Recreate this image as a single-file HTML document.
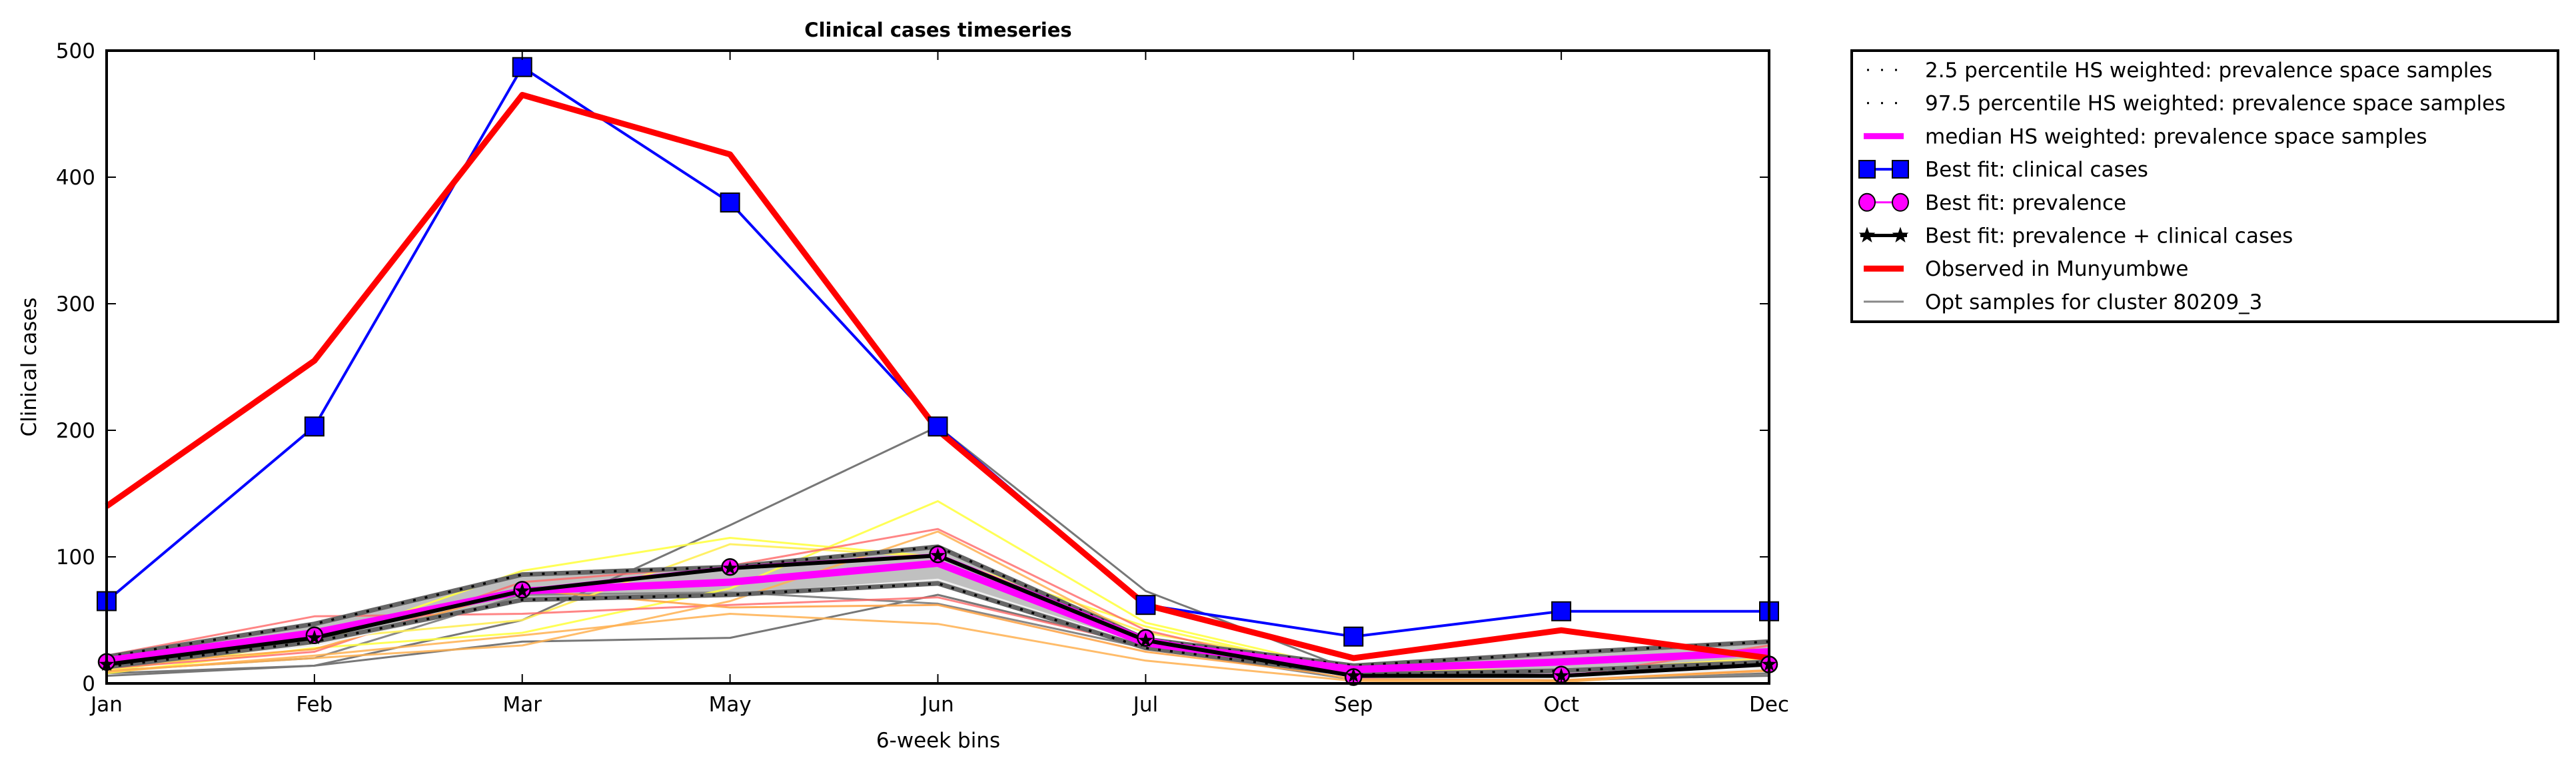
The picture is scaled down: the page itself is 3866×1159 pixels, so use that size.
<!DOCTYPE html>
<html><head><meta charset="utf-8"><style>
html,body{margin:0;padding:0;background:#fff;}
svg{display:block;font-family:"DejaVu Sans","Liberation Sans",sans-serif;}
</style></head><body>
<svg id="chart" width="3866" height="1159" xmlns="http://www.w3.org/2000/svg">
<rect width="3866" height="1159" fill="#fff"/>
<g id="plot"></g>
<text x="1408" y="55" font-size="29" font-weight="bold" text-anchor="middle">Clinical cases timeseries</text>
<text x="1408" y="1122" font-size="31" text-anchor="middle">6-week bins</text>
<text x="54" y="551" font-size="31" text-anchor="middle" transform="rotate(-90 54 551)">Clinical cases</text>
<g id="legend"></g>
</svg>
<script>
const categories = ["Jan","Feb","Mar","May","Jun","Jul","Sep","Oct","Dec"];
const yTicks = [0,100,200,300,400,500];
const observed = [140,255,465,418,200,62,20,42,20];
const bestClinical = [65,203,487,380,203,62,37,57,57];
const bestPrev = [17,38,74,92,102,36,5,7,15];
const bestBoth = [15,36,73,91,101,34,6,6,15];
const median = [18,40,73,80,95,32,11,17,25];
const p025 = [13,33,66,70,79,28,7,10,17];
const p975 = [21,47,86,92,108,35,14,24,33];
const samplesGray1 = [6,14,50,125,203,73,10,2,8];
const samplesGray2 = [8,14,33,36,70,30,5,3,6];
const samplesGray3 = [10,20,70,72,63,28,3,4,7];
const samplesYellow1 = [10,32,89,115,100,45,8,10,18];
const samplesYellow2 = [8,28,40,75,144,48,10,10,15];
const samplesYellow3 = [12,35,50,110,100,40,12,10,20];
const samplesRed1 = [22,53,55,62,68,30,5,5,30];
const samplesRed2 = [12,25,80,93,122,42,4,3,10];
const samplesOrange1 = [10,20,30,65,120,35,3,2,10];
const samplesOrange2 = [9,22,38,55,47,18,2,1,12];
const samplesOrange3 = [14,27,74,60,62,25,5,3,11];
const samplesWhite1 = [15,30,66,70,82,30,5,4,12];

const L=160,R=2655,T=76,B=1026;
const NS="http://www.w3.org/2000/svg";
const xs=i=>L+i*(R-L)/(categories.length-1);
const ys=v=>B-v*(B-T)/500;
const plot=document.getElementById('plot');
function mk(tag,attrs,parent){const e=document.createElementNS(NS,tag);for(const k in attrs)e.setAttribute(k,attrs[k]);(parent||plot).appendChild(e);return e;}
function pts(a){return a.map((v,i)=>xs(i).toFixed(1)+","+ys(v).toFixed(1)).join(" ");}
function line(arr,name,stroke,w,extra){const e=mk('polyline',Object.assign({points:pts(arr),fill:'none',stroke:stroke,'stroke-width':w,'stroke-linejoin':'round'},extra||{}));


return e;}

const band=mk('polygon',{points:pts(p975)+" "+p025.map((v,i)=>[xs(i),ys(v)]).reverse().map(p=>p[0].toFixed(1)+","+p[1].toFixed(1)).join(" "),fill:'#bdbdbd',opacity:'0.95'});



const samples=[[samplesGray1,'#777',1],[samplesGray2,'#777',1],[samplesGray3,'#888',1],[samplesYellow1,'#ffff44',0.9],[samplesYellow2,'#ffff44',0.9],[samplesYellow3,'#ffee55',0.9],[samplesRed1,'#ff6666',0.8],[samplesRed2,'#ff6666',0.8],[samplesOrange1,'#ffb050',0.85],[samplesOrange2,'#ffb050',0.85],[samplesOrange3,'#ffa040',0.85],[samplesWhite1,'#eeeeee',1]];
samples.forEach(s=>{line(s[0],'opt-sample-line',s[1],3,{opacity:s[2]});});

line(p025,'percentile-2-5-edge','#666',7);
line(p975,'percentile-97-5-edge','#666',7);
line(p025,'percentile-2-5-line','#000',3.5,{'stroke-dasharray':'4 14'});
line(p975,'percentile-97-5-line','#000',3.5,{'stroke-dasharray':'4 14'});
line(median,'median-line','#ff00ff',11);
line(bestPrev,'best-fit-prevalence-line','#ff00ff',3);
line(bestBoth,'best-fit-both-line','#000',6);
line(bestClinical,'best-fit-clinical-line','#0000ff',4);
line(observed,'observed-line','#ff0000',9);

bestClinical.forEach((v,i)=>{const r=mk('rect',{x:xs(i)-14,y:ys(v)-14,width:28,height:28,fill:'#0000ff',stroke:'#000','stroke-width':2});

});
bestPrev.forEach((v,i)=>{const c=mk('circle',{cx:xs(i),cy:ys(v),r:12,fill:'#ff00ff',stroke:'#000','stroke-width':2.5});

});
function starPath(cx,cy,r){let d="";for(let k=0;k<10;k++){const rr=k%2?r*0.4:r;const a=-Math.PI/2+k*Math.PI/5;d+=(k?"L":"M")+(cx+rr*Math.cos(a)).toFixed(1)+","+(cy+rr*Math.sin(a)).toFixed(1);}return d+"Z";}
bestBoth.forEach((v,i)=>{const p=mk('path',{d:starPath(xs(i),ys(v),12),fill:'#000'});

});

const fr=mk('rect',{x:L,y:T,width:R-L,height:B-T,fill:'none',stroke:'#000','stroke-width':4});


categories.forEach((c,i)=>{
 const x=xs(i);
 const t1=mk('line',{x1:x,y1:B,x2:x,y2:B-14,stroke:'#000','stroke-width':2});
 
 
 const t2=mk('line',{x1:x,y1:T,x2:x,y2:T+14,stroke:'#000','stroke-width':2});
 
 
 const tx=mk('text',{x:x,y:1068,'font-size':31,'text-anchor':'middle'});tx.textContent=c;
 
 
});
yTicks.forEach(v=>{
 const y=ys(v);
 const t1=mk('line',{x1:L,y1:y,x2:L+14,y2:y,stroke:'#000','stroke-width':2});
 
 
 const t2=mk('line',{x1:R,y1:y,x2:R-14,y2:y,stroke:'#000','stroke-width':2});
 
 
 const tx=mk('text',{x:143,y:y+11,'font-size':31,'text-anchor':'end'});tx.textContent=v;
 
 
});

const lg=document.getElementById('legend');
const lb=mk('rect',{x:2779,y:76,width:1060,height:407,fill:'#fff',stroke:'#000','stroke-width':4},lg);


const labels=["2.5 percentile HS weighted: prevalence space samples","97.5 percentile HS weighted: prevalence space samples","median HS weighted: prevalence space samples","Best fit: clinical cases","Best fit: prevalence","Best fit: prevalence + clinical cases","Observed in Munyumbwe","Opt samples for cluster 80209_3"];
labels.forEach((t,k)=>{
 const cy=105+k*49.7, x0=2792, x1=2862;
 const g=mk('g',{},lg);
 
 
 if(k<2) mk('line',{x1:x0+10,y1:cy,x2:x1,y2:cy,stroke:'#000','stroke-width':3,'stroke-dasharray':'3 18'},g);
 if(k==2) mk('line',{x1:x0+5,y1:cy,x2:x1-5,y2:cy,stroke:'#ff00ff','stroke-width':9},g);
 if(k==3){mk('line',{x1:x0,y1:cy,x2:x1,y2:cy,stroke:'#0000ff','stroke-width':4},g);[x0+10,x1-10].forEach(x=>mk('rect',{x:x-12,y:cy-13,width:24,height:26,fill:'#0000ff',stroke:'#000','stroke-width':2},g));}
 if(k==4){mk('line',{x1:x0,y1:cy,x2:x1,y2:cy,stroke:'#ff00ff','stroke-width':3},g);[x0+10,x1-10].forEach(x=>mk('ellipse',{cx:x,cy:cy,rx:12,ry:13,fill:'#ff00ff',stroke:'#000','stroke-width':2},g));}
 if(k==5){mk('line',{x1:x0,y1:cy,x2:x1,y2:cy,stroke:'#000','stroke-width':5},g);[x0+10,x1-10].forEach(x=>mk('path',{d:starPath(x,cy,13),fill:'#000'},g));}
 if(k==6) mk('line',{x1:x0+5,y1:cy,x2:x1-5,y2:cy,stroke:'#ff0000','stroke-width':9},g);
 if(k==7) mk('line',{x1:x0+5,y1:cy,x2:x1-5,y2:cy,stroke:'#888','stroke-width':3},g);
 const tx=mk('text',{x:2889,y:cy+11,'font-size':31},g);tx.textContent=t;
});
</script>
</body></html>
